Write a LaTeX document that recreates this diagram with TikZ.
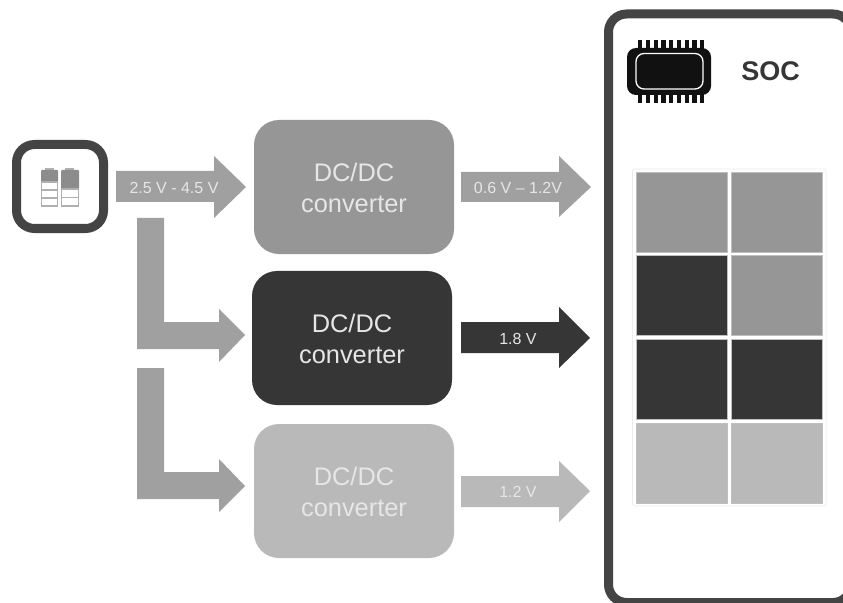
\documentclass[tikz,border=0pt]{standalone}
\usepackage{fontspec}
\setmainfont{Liberation Sans}
\definecolor{cmid}{HTML}{969696}
\definecolor{carr}{HTML}{A0A0A0}
\definecolor{cdark}{HTML}{363636}
\definecolor{clight}{HTML}{B9B9B9}
\definecolor{cframe}{HTML}{444444}
\definecolor{cchip}{HTML}{111111}
\definecolor{ctxt}{HTML}{E6E6E6}
\definecolor{cbat}{HTML}{8C8C8C}
\definecolor{cbatline}{HTML}{B0B0B0}
\begin{document}
\begin{tikzpicture}[x=1bp,y=-1bp,
  conv/.style={rounded corners=25bp,minimum width=200bp,minimum height=134bp,inner sep=0pt},
  convtext/.style={text=ctxt,align=center,inner sep=0pt,font=\fontsize{25.4bp}{31bp}\selectfont},
  arrlabel/.style={inner sep=0pt,text=ctxt,font=\fontsize{16bp}{20bp}\selectfont,anchor=center},
  cell/.style={minimum width=91.5bp,minimum height=80bp,inner sep=0pt,outer sep=0pt,anchor=north west,draw=white!75!black,line width=0.4bp},
  framebox/.style={draw=cframe,line width=9bp,rounded corners=18bp,fill=white}
]
\useasboundingbox (0,0) rectangle (843,603);
\clip (0,0) rectangle (843,603);
\fill[white] (0,0) rectangle (843,603);

% battery box
\draw[framebox] (16.5,144.5) rectangle (103.5,228.5);
% batteries
\fill[cbatline] (45,168) rectangle (54,172);
\fill[cbatline] (65,168) rectangle (74,172);
\fill[cbat,rounded corners=1bp] (41,170) rectangle (58,182);
\fill[cbat,rounded corners=1bp] (61,170) rectangle (79,189);
\foreach \a/\b in {182/190,190/198,198/206}{
  \filldraw[fill=white,draw=cbatline,line width=1.4bp] (41.7,\a) rectangle (57.3,\b);
}
\foreach \a/\b in {189/197.5,197.5/206}{
  \filldraw[fill=white,draw=cbatline,line width=1.4bp] (61.7,\a) rectangle (78.3,\b);
}

% converters
\node[conv,fill=cmid] (c1) at (354,187) {};
\node[conv,fill=cdark] (c2) at (352,338) {};
\node[conv,fill=clight] (c3) at (354,491) {};
\node[convtext] (l1) at (354,188) {DC/DC\\converter};
\node[convtext] (l2) at (352,339) {DC/DC\\converter};
\node[convtext] (l3) at (354,492) {DC/DC\\converter};

% input arrows
\fill[carr] (116,171) -- (214,171) -- (214,156) -- (246,187) -- (214,218) -- (214,202) -- (116,202) -- cycle;
\node[arrlabel] (v1) at (174,188) {2.5 V - 4.5 V};
\fill[carr] (137,218) -- (164,218) -- (164,322) -- (219,322) -- (219,309) -- (245,335) -- (219,362) -- (219,349) -- (137,349) -- cycle;
\fill[carr] (137,368) -- (164,368) -- (164,472) -- (219,472) -- (219,459) -- (245,486) -- (219,512) -- (219,499) -- (137,499) -- cycle;

% output arrows
\fill[carr] (461,172) -- (559,172) -- (559,156) -- (591,187) -- (559,217) -- (559,202) -- (461,202) -- cycle;
\node[arrlabel] (v2) at (518,188) {0.6 V – 1.2V};
\fill[cdark] (461,322) -- (559,322) -- (559,307) -- (590,338) -- (559,368) -- (559,353) -- (461,353) -- cycle;
\node[arrlabel] (v3) at (518,339) {1.8 V};
\fill[clight] (461,476) -- (559,476) -- (559,461) -- (590,491) -- (559,522) -- (559,507) -- (461,507) -- cycle;
\node[arrlabel] (v4) at (518,492) {1.2 V};

% SOC frame
\draw[framebox] (608.5,14) rectangle (851,602.5);

% chip icon
\foreach \i in {0,...,8}{
  \fill[cchip] (638+\i*7.75,40) rectangle (642.3+\i*7.75,103);
}
\fill[cchip,rounded corners=9bp] (627,48) rectangle (711,95);
\draw[white,line width=1.3bp,rounded corners=8bp] (636,53.5) rectangle (703,89);
\node[font=\bfseries\fontsize{27bp}{32bp}\selectfont,text=cdark,inner sep=0pt] (soc) at (770.5,71) {SOC};

% memory grid
\draw[white!93!black,line width=0.7bp,rounded corners=1.5bp] (632.5,169) rectangle (826,506);
\node[cell,fill=cmid] (g11) at (636,172) {};
\node[cell,fill=cmid] (g12) at (731,172) {};
\node[cell,fill=cdark] (g21) at (636,255.5) {};
\node[cell,fill=cmid] (g22) at (731,255.5) {};
\node[cell,fill=cdark] (g31) at (636,339) {};
\node[cell,fill=cdark] (g32) at (731,339) {};
\node[cell,fill=clight] (g41) at (636,423) {};
\node[cell,fill=clight] (g42) at (731,423) {};
\end{tikzpicture}
\end{document}
